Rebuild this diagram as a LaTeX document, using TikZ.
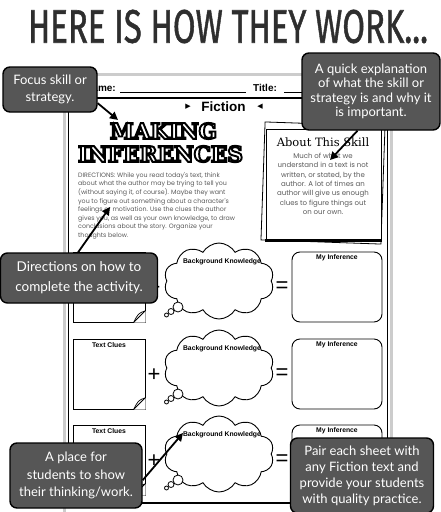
\documentclass[tikz,border=0pt]{standalone}
\usepackage{fontspec}
\setmainfont{Liberation Sans}
\newfontfamily\handfont{Lato}
\newfontfamily\geofont{Poppins}
\newfontfamily\slabfont{DejaVu Serif}
\newfontfamily\symfont{DejaVu Sans}
\newfontfamily\headfont[FakeBold=1.2]{Fira Sans}
\usetikzlibrary{arrows.meta,shapes.symbols}

\definecolor{calloutgray}{HTML}{565656}
\definecolor{inkgray}{HTML}{5A5A5A}

% hollow lettering: white fill with a black stroke round each glyph
\newcommand{\hollowtext}[1]{\special{pdf:literal direct 0 0 0 RG 0.9 w 2 Tr}#1\special{pdf:literal direct 0 Tr}}

\tikzset{
  callout/.style={draw=black, line width=1.4pt, fill=calloutgray, rounded corners=7pt,
    text=white, align=center, inner sep=0pt},
  pointer/.style={draw=black, line width=1.8pt, -{Triangle[length=8pt,width=8pt]}},
  cluebox/.style={draw=black, line width=0.8pt, fill=white, minimum width=72pt,
    minimum height=70pt, inner sep=0pt},
  inferbox/.style={draw=black, line width=0.9pt, rounded corners=8pt,
    minimum width=90pt, minimum height=70pt, inner sep=0pt},
  thought/.style={cloud, cloud puffs=10, cloud puff arc=120, draw=black,
    line width=0.9pt, fill=white, minimum width=110pt, minimum height=76pt, inner sep=0pt},
  bubble/.style={circle, draw=black, line width=0.8pt, fill=white, inner sep=0pt},
  boxlabel/.style={font=\bfseries\fontsize{6.8}{7}\selectfont, inner sep=0pt},
  bigsign/.style={font=\fontsize{22}{22}\selectfont, inner sep=0pt},
  sheetlabel/.style={font=\bfseries\fontsize{10}{10}\selectfont, inner sep=0pt},
}

\begin{document}
\begin{tikzpicture}[x=1pt,y=-1pt]
\useasboundingbox (0,0) rectangle (441,512);
\fill[white] (0,0) rectangle (441,512);

% heading
\node[inner sep=0pt, text=black!82] (heading) at (228,26.5)
  {\resizebox{400pt}{33pt}{\headfont HERE IS HOW THEY WORK...}};

% the worksheet page and its frame
\draw[gray!40, line width=3pt, fill=white] (64.5,74.5) rectangle (391.5,514);
\draw[line width=1.8pt] (68.5,98) rectangle (387.5,503);

% name and title lines
\node[sheetlabel, anchor=base east] (namelbl) at (116,91) {Name:};
\draw[line width=0.6pt] (120,92) -- (246,92);
\node[sheetlabel, anchor=base west] (titlelbl) at (253,91) {Title:};
\draw[line width=0.6pt] (284,92) -- (330,92);

% genre line
\node[font=\bfseries\fontsize{13.5}{14}\selectfont, inner sep=0pt] (genre) at (223.5,107) {Fiction};
\node[font=\symfont\fontsize{7}{7}\selectfont, inner sep=0pt] (markL) at (188,107) {▶};
\node[font=\symfont\fontsize{7}{7}\selectfont, inner sep=0pt] (markR) at (260,107) {◀};

% outlined skill title
\node[inner sep=0pt, text=white] (skill1) at (163.5,131)
  {\resizebox{107pt}{!}{\slabfont\bfseries\hollowtext{MAKING}}};
\node[inner sep=0pt, text=white] (skill2) at (160.5,154)
  {\resizebox{165pt}{!}{\slabfont\bfseries\hollowtext{INFERENCES}}};

% directions paragraph
\node[anchor=north west, font=\geofont\fontsize{6.3}{8.6}\selectfont, align=left,
      text=inkgray, inner sep=0pt] (directions) at (78,172)
  {DIRECTIONS: While you read today's text, think\\
   about what the author may be trying to tell you\\
   (without saying it, of course).  Maybe they want\\
   you to figure out something about a character's\\
   feelings or motivation.  Use the clues the author\\
   gives you, as well as your own knowledge, to draw\\
   conclusions about the story.  Organize your\\
   thoughts below.};

% about-this-skill card
\draw[line width=0.8pt, fill=white, rotate around={-2:(323,183)}] (263,124) rectangle (383,242);
\draw[line width=0.8pt, fill=white] (266,129) rectangle (381,239);
\draw[line width=2.5pt] (265,240.5) -- (382,240.5);
\node[font=\slabfont\fontsize{11.5}{12}\selectfont, inner sep=0pt] (skillhead) at (323,142) {About This Skill};
\node[font=\geofont\fontsize{7}{9.3}\selectfont, align=center, text=inkgray, anchor=north,
      inner sep=0pt] (skilltext) at (323,153)
  {Much of what we\\understand in a text is not\\written, or stated, by the\\
   author.  A lot of times an\\author will give us enough\\clues to figure things out\\on our own.};

% three rows: text clues + background knowledge = inference
\foreach \r/\t in {1/252,2/339,3/425}{
  \node[cluebox] (clue\r) at (109,\t+35) {};
  \fill[white] (145.6,\t+59) -- (145.6,\t+70.6) -- (134,\t+70.6) -- cycle;
  \draw[line width=0.8pt] (145,\t+59) -- (134,\t+70);
  \draw[line width=0.7pt] (145,\t+59) .. controls (139,\t+60.5) and (137,\t+63) .. (134,\t+70);
  \node[boxlabel, anchor=north] (cluelbl\r) at (109,\t+3) {Text Clues};
  \node[bigsign] (plus\r) at (154,\t+36) {+};
  \node[thought] (cloud\r) at (219,\t+29) {};
  \node[boxlabel] (cloudlbl\r) at (222,\t+10) {Background Knowledge};
  \node[bubble, minimum size=10pt] (bubA\r) at (178,\t+55) {};
  \node[bubble, minimum size=6pt] (bubB\r) at (171,\t+59.5) {};
  \node[bubble, minimum size=4pt] (bubC\r) at (166.5,\t+63) {};
  \node[bigsign] (eq\r) at (282,\t+35) {=};
  \node[inferbox] (infer\r) at (337,\t+35) {};
  \node[boxlabel] (inferlbl\r) at (337,\t+6) {My Inference};
}

% callouts
\node[callout, minimum width=94pt, minimum height=45pt, font=\handfont\fontsize{13}{17}\selectfont]
  (c1) at (50,89.5) {Focus skill or\\strategy.};
\node[callout, minimum width=138pt, minimum height=77pt, font=\handfont\fontsize{13}{14.5}\selectfont]
  (c2) at (371,91.5) {A quick explanation\\of what the skill or\\strategy is and why it\\is important.};
\node[callout, minimum width=157pt, minimum height=50pt, font=\handfont\fontsize{13.5}{20}\selectfont]
  (c3) at (79,278) {Directions on how to\\complete the activity.};
\node[callout, minimum width=132pt, minimum height=65pt, font=\handfont\fontsize{13}{17.5}\selectfont]
  (c4) at (76,475.5) {A place for\\students to show\\their thinking/work.};
\node[callout, minimum width=143pt, minimum height=75pt, font=\handfont\fontsize{13}{16}\selectfont]
  (c5) at (362,475.5) {Pair each sheet with\\any Fiction text and\\provide your students\\with quality practice.};

% pointers from callouts to the parts they describe
\coordinate (p1) at (118,120);
\coordinate (p2) at (330,160);
\coordinate (p3) at (110,207);
\coordinate (p4) at (183,433);
\draw[pointer] (c1.-16) -- (p1);
\draw[pointer] (c2.-109) -- (p2);
\draw[pointer] (c3.92) -- (p3);
\draw[pointer] (c4.-4) -- (p4);
\end{tikzpicture}
\end{document}
